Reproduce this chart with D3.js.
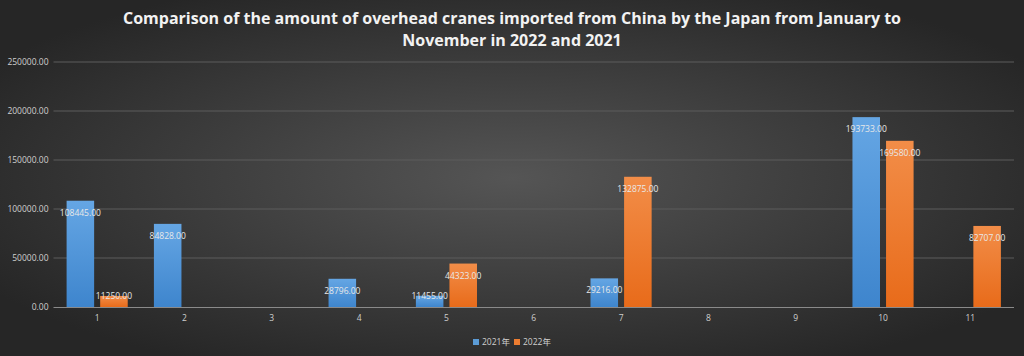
<!DOCTYPE html>
<html><head><meta charset="utf-8">
<script src="https://cdn.jsdelivr.net/npm/d3@7"></script>
<style>html,body{margin:0;padding:0;background:#333;}svg{display:block;}</style>
</head><body>
<svg id="chart" width="1024" height="356"></svg>
<script>
const categories = ["1","2","3","4","5","6","7","8","9","10","11"];
const series2021 = [108445, 84828, null, 28796, 11455, null, 29216, null, null, 193733, null];
const series2022 = [11250, null, null, null, 44323, null, 132875, null, null, 169580, 82707];
const seriesNames = ["2021年", "2022年"];
const yTicks = [0, 50000, 100000, 150000, 200000, 250000];
const titleLines = ["Comparison of the amount of overhead cranes imported from China by the Japan from January to", "November in 2022 and 2021"];

const W = 1024, H = 356;
const svg = d3.select("#chart");
const defs = svg.append("defs");
const bg = defs.append("radialGradient").attr("id","bg").attr("cx","50%").attr("cy","50%").attr("r","60%");
bg.append("stop").attr("offset","0%").attr("stop-color","#555555");
bg.append("stop").attr("offset","100%").attr("stop-color","#262626");
const gB = defs.append("linearGradient").attr("id","gBlue").attr("x1",0).attr("y1",0).attr("x2",0).attr("y2",1);
gB.append("stop").attr("offset","0%").attr("stop-color","#65a6e4");
gB.append("stop").attr("offset","100%").attr("stop-color","#3e85cd");
const gO = defs.append("linearGradient").attr("id","gOrange").attr("x1",0).attr("y1",0).attr("x2",0).attr("y2",1);
gO.append("stop").attr("offset","0%").attr("stop-color","#f28d48");
gO.append("stop").attr("offset","100%").attr("stop-color","#e86b1a");
const fills = ["url(#gBlue)", "url(#gOrange)"];
const legendColors = ["#5b9bd5", "#ed7d31"];

svg.append("rect").attr("width",W).attr("height",H).attr("fill","url(#bg)");

const x0 = 53.5, x1 = 1014, yTop = 62, yBot = 307;
const x = d3.scaleBand().domain(categories).range([x0, x1]).paddingInner(0.3).paddingOuter(0.15);
const xs = d3.scaleBand().domain([0,1]).range([0, x.bandwidth()]).paddingInner(0.18);
const y = d3.scaleLinear().domain([0, 250000]).range([yBot, yTop]);

// gridlines
svg.append("g").selectAll("line").data(yTicks.slice(1)).join("line")
  .attr("x1", x0).attr("x2", x1).attr("y1", d=>y(d)).attr("y2", d=>y(d))
  .attr("stroke","#5c5c5c").attr("stroke-width",1);

// y axis labels
const yAxis = d3.axisLeft(y).tickValues(yTicks).tickFormat(d=>d3.format(".2f")(d)).tickSize(0).tickPadding(5);
const gy = svg.append("g").attr("transform",`translate(${x0},0)`).call(yAxis);
gy.select(".domain").remove();
gy.selectAll("text").attr("fill","#cfcfcf").style("font-family","'Open Sans', sans-serif").style("font-size","8.5px");

// bars
const data = [series2021, series2022];
const groups = svg.append("g");
data.forEach((vals, si) => {
  const items = categories.map((c,i)=>({c, v: vals[i]})).filter(d=>d.v!=null);
  groups.append("g").selectAll("rect").data(items).join("rect")
    .attr("x", d=>x(d.c)+xs(si)).attr("width", xs.bandwidth())
    .attr("y", d=>y(d.v)).attr("height", d=>yBot - y(d.v))
    .attr("fill", fills[si]);
  groups.append("g").selectAll("text").data(items).join("text")
    .attr("x", d=>x(d.c)+xs(si)+xs.bandwidth()/2)
    .attr("y", d=>Math.min(y(d.v)+12, yBot-11))
    .attr("dy","0.35em").attr("text-anchor","middle")
    .attr("fill","#e8e8e8").style("font-family","'Open Sans', sans-serif").style("font-size","8.5px")
    .text(d=>d3.format(".2f")(d.v));
});

// x axis
const xAxis = d3.axisBottom(x).tickSize(0).tickPadding(8);
const gx = svg.append("g").attr("transform",`translate(0,${yBot})`).call(xAxis);
gx.select(".domain").attr("stroke","#8a8a8a").attr("d",`M${x0},0.5H${x1}`);
gx.selectAll("text").attr("fill","#cfcfcf").style("font-family","'Open Sans', sans-serif").style("font-size","8.5px");

// title
svg.append("g").selectAll("text").data(titleLines).join("text")
  .attr("x", W/2).attr("y",(d,i)=>24+i*22).attr("text-anchor","middle")
  .attr("fill","#f2f2f2").style("font-family","'Open Sans', sans-serif").style("font-weight","bold").style("font-size","16px")
  .text(d=>d);

// legend
const lg = svg.append("g").attr("transform","translate(473,342)");
const lItems = lg.selectAll("g").data(seriesNames).join("g").attr("transform",(d,i)=>`translate(${i*41},0)`);
lItems.append("rect").attr("x",0).attr("y",-3).attr("width",6).attr("height",6).attr("fill",(d,i)=>legendColors[i]);
lItems.append("text").attr("x",9).attr("y",0).attr("dy","0.35em").attr("fill","#cfcfcf")
  .style("font-family","'Open Sans','Noto Sans CJK SC', sans-serif").style("font-size","8.5px").text(d=>d);
</script>
</body></html>
